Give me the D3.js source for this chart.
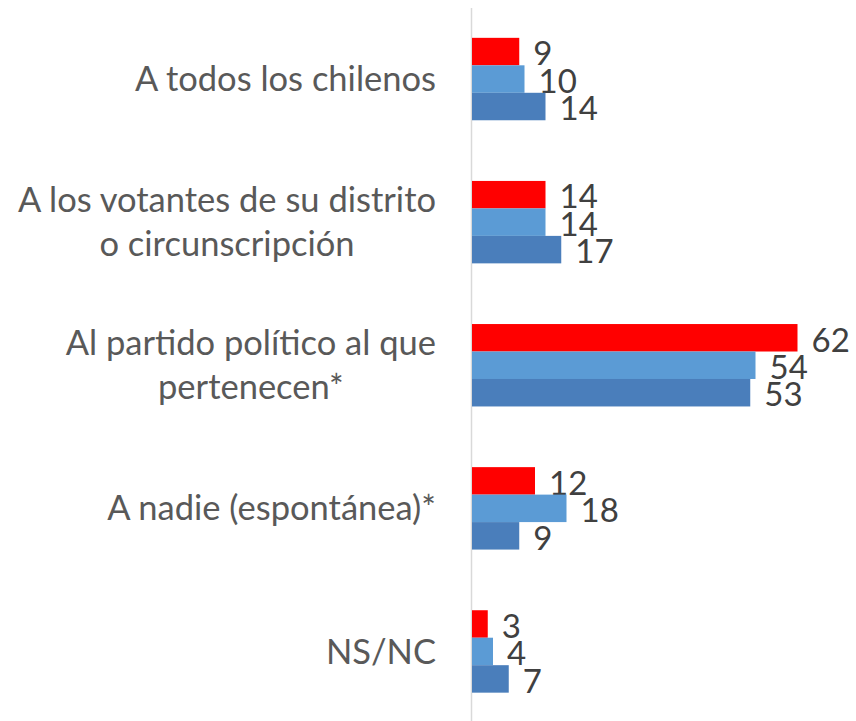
<!DOCTYPE html>
<html>
<head>
<meta charset="utf-8">
<script src="https://cdn.jsdelivr.net/npm/d3@7"></script>
<style>
  body { margin: 0; background: #fff; }
  svg { display: block; }
</style>
</head>
<body>
<div id="chart"></div>
<script>
const width = 856;
const height = 721;

// data
const categories = [
    ["A todos los chilenos"],
    ["A los votantes de su distrito", "o circunscripción"],
    ["Al partido político al que", "pertenecen*"],
    ["A nadie (espontánea)*"],
    ["NS/NC"]
];
const seriesNames = ["s1", "s2", "s3"];
const seriesRed = [9, 14, 62, 12, 3];
const seriesLight = [10, 14, 54, 18, 4];
const seriesSteel = [14, 17, 53, 9, 7];
const colors = ["#FF0000", "#5B9BD5", "#4A7EBB"];

const allSeries = [seriesRed, seriesLight, seriesSteel];

var svg = d3.select("#chart")
    .append("svg")
    .attr("width", width)
    .attr("height", height);

const x0 = 472;
const x = d3.scaleLinear()
    .domain([0, 70])
    .range([x0, x0 + 70 * 5.25]);

const y = d3.scaleBand()
    .domain(d3.range(categories.length))
    .range([7.5, 723])
    .paddingInner(0.424)
    .paddingOuter(0.212);

const yInner = d3.scaleBand()
    .domain(seriesNames)
    .range([0, y.bandwidth()]);

// axis line
svg.append("line")
    .attr("x1", x0 - 0.5).attr("x2", x0 - 0.5)
    .attr("y1", 8).attr("y2", height)
    .attr("stroke", "#D9D9D9")
    .attr("stroke-width", 1.5);

const groups = svg.selectAll("g.grp")
    .data(categories)
    .join("g")
    .attr("class", "grp")
    .attr("transform", (d, i) => `translate(0,${y(i)})`);

seriesNames.forEach((s, k) => {
    groups.append("rect")
        .attr("x", x(0))
        .attr("y", yInner(s))
        .attr("width", (d, i) => x(allSeries[k][i]) - x(0))
        .attr("height", yInner.bandwidth())
        .attr("fill", colors[k]);

    groups.append("text")
        .attr("x", (d, i) => x(allSeries[k][i]) + 14)
        .attr("y", yInner(s) + yInner.bandwidth())
        .attr("font-family", "Lato, sans-serif")
        .attr("font-size", 33)
        .attr("fill", "#404040")
        .text((d, i) => allSeries[k][i]);
});

// category labels: block right-aligned at 436, lines centred inside it
const labelRight = 436;
groups.each(function(lines, i) {
    const g = d3.select(this);
    const mid = y.bandwidth() / 2;
    const lh = 44;
    const texts = lines.map((t, j) => g.append("text")
        .attr("y", mid + (j - (lines.length - 1) / 2) * lh)
        .attr("dy", "0.35em")
        .attr("text-anchor", "middle")
        .attr("font-family", "Lato, sans-serif")
        .attr("font-size", 34.5)
        .attr("fill", "#595959")
        .text(t));
    const maxW = d3.max(texts, t => t.node().getComputedTextLength());
    texts.forEach(t => t.attr("x", labelRight - maxW / 2));
});
</script>
</body>
</html>
